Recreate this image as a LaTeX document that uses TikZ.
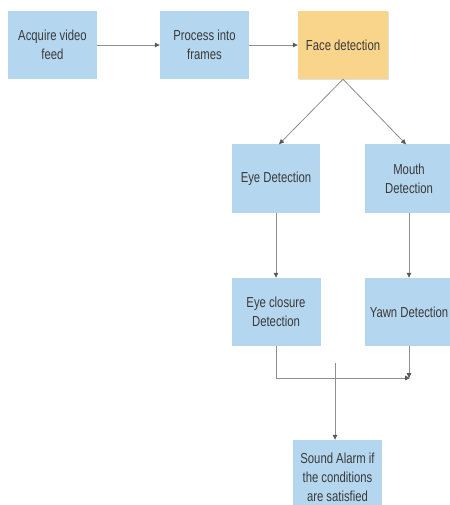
\documentclass[tikz,border=0pt]{standalone}
\usepackage{fontspec}
\setmainfont{Liberation Sans}[FakeStretch=0.78]
\usetikzlibrary{arrows.meta,shadows}
\definecolor{boxblue}{HTML}{B4D6EE}
\definecolor{boxorange}{HTML}{F9D48B}
\definecolor{linegray}{HTML}{8E8E8E}
\definecolor{tipgray}{HTML}{5A5A5A}
\definecolor{textgray}{HTML}{3A3A3A}

\begin{document}
\begin{tikzpicture}[x=1pt,y=-1pt,>=Latex,
 stage/.style={fill=boxblue,minimum width=89pt,minimum height=68pt,align=center,inner sep=2pt,text=textgray,font=\fontsize{14.5}{19}\selectfont},
 keystage/.style={stage,fill=boxorange,drop shadow={shadow xshift=1.2pt,shadow yshift=-1.2pt,opacity=0.25}},
 a/.style={-{Triangle[length=5pt,width=4.5pt,color=tipgray]},line width=0.8pt,draw=linegray},
 ln/.style={line width=0.8pt,draw=linegray}]
\path[use as bounding box,fill=white] (0,0) rectangle (449,505);

\node[stage] (acq) at (52.5,45) {Acquire video\\feed};
\node[stage] (proc) at (204.5,45) {Process into\\frames};
\node[keystage,minimum width=90pt] (face) at (343,45) {Face detection};

\node[stage,minimum width=88pt] (eye) at (276,178.5) {Eye Detection};
\node[stage] (mouth) at (409,178.5) {Mouth\\Detection};
\node[stage] (eyec) at (276,312) {Eye closure\\Detection};
\node[stage] (yawn) at (409,312) {Yawn Detection};
\node[stage,minimum height=74pt] (alarm) at (337.5,477) {Sound Alarm if\\the conditions\\are satisfied};

\draw[a] (acq)--(proc); \draw[a] (proc)--(face);
\draw[a] (face.south)--([xshift=3pt]eye.north);
\draw[a] (face.south)--([xshift=-3pt]mouth.north);
\draw[a] (eye)--(eyec); \draw[a] (mouth)--(yawn);

% merge below the two detectors
\coordinate (merge) at (410,378);
\coordinate (tap) at (335,363);
\draw[a] (eyec.south) |- (merge);
\draw[a] (yawn.south) -- (yawn.south |- merge);
\draw[a] (tap) -- (tap |- alarm.north);
\end{tikzpicture}
\end{document}
